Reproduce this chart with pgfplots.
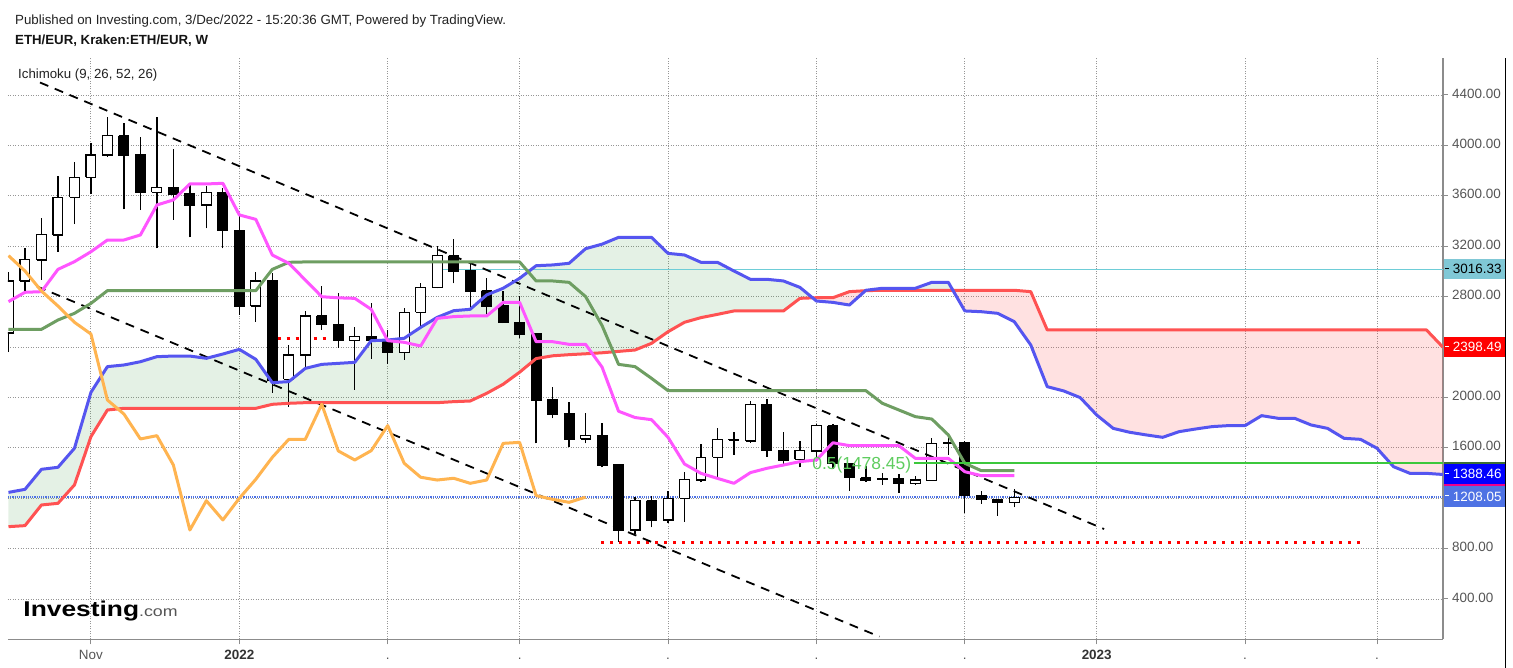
\documentclass[border=0pt]{standalone}
\usepackage{fontspec}
\setmainfont{Liberation Sans}
\usepackage{pgfplots}
\pgfplotsset{compat=1.18}
\usepackage{pgfplotstable}

\definecolor{senA}{RGB}{85,85,240}
\definecolor{senB}{RGB}{255,82,82}
\definecolor{tenkanc}{RGB}{255,85,255}
\definecolor{kijunc}{RGB}{110,158,98}
\definecolor{chikouc}{RGB}{255,180,80}
\definecolor{cloudG}{RGB}{67,160,71}
\definecolor{cloudR}{RGB}{255,82,82}
\definecolor{gridc}{RGB}{150,150,150}
\definecolor{axisc}{RGB}{140,140,140}
\definecolor{labc}{RGB}{85,85,85}
\definecolor{darkc}{RGB}{51,51,51}
\definecolor{tealc}{RGB}{128,200,214}
\definecolor{tealline}{RGB}{110,205,215}
\definecolor{lastblue}{RGB}{78,114,228}
\definecolor{fibg}{RGB}{60,200,60}
\definecolor{fibtext}{RGB}{95,205,95}
\definecolor{kijunlab}{RGB}{60,110,50}

% weekly candles, k = weeks from 3 Jan 2022
\pgfplotstableread{
k O H L C
-14 2511 2998 2360 2924
-13 2924 3183 2831 3096
-12 3090 3421 2932 3291
-11 3289 3760 3157 3588
-10 3588 3871 3376 3747
-9 3747 4022 3614 3924
-8 3924 4228 3911 4075
-7 4075 4180 3493 3924
-6 3929 4069 3487 3625
-5 3627 4228 3183 3667
-4 3667 3969 3408 3614
-3 3620 3699 3270 3527
-2 3527 3678 3342 3628
-1 3628 3659 3183 3321
0 3321 3461 2654 2725
1 2725 2998 2601 2924
2 2924 2985 2037 2138
3 2143 2416 1926 2336
4 2336 2688 2244 2646
5 2646 2887 2535 2575
6 2580 2831 2395 2448
7 2450 2561 2059 2482
8 2482 2746 2305 2450
9 2450 2535 2265 2358
10 2358 2707 2297 2675
11 2675 2905 2561 2874
12 2871 3202 2866 3125
13 3125 3255 2905 3003
14 3006 3077 2715 2844
15 2847 2945 2662 2725
16 2728 2847 2590 2596
17 2596 2805 2468 2503
18 2508 2508 1635 1979
19 1984 2085 1834 1868
20 1873 1966 1604 1670
21 1670 1873 1635 1696
22 1696 1794 1445 1463
23 1469 1469 855 947
24 947 1207 916 1180
25 1180 1217 969 1027
26 1027 1260 1006 1199
27 1199 1410 1014 1350
28 1344 1630 1326 1524
29 1524 1754 1352 1667
30 1660 1728 1543 1667
31 1654 1974 1641 1945
32 1945 1985 1530 1575
33 1577 1728 1471 1503
34 1508 1657 1445 1577
35 1574 1786 1529 1776
36 1775 1789 1429 1477
37 1477 1477 1260 1366
38 1360 1455 1331 1344
39 1350 1402 1305 1358
40 1358 1389 1244 1318
41 1318 1376 1305 1344
42 1339 1675 1339 1635
43 1635 1688 1543 1643
44 1643 1656 1085 1220
45 1217 1260 1154 1191
46 1191 1191 1059 1167
47 1167 1270 1127 1208
}\candles

\pgfplotstableread{
k v
-14 2760
-13 2834
-12 2839
-11 3016
-10 3077
-9 3156
-8 3249
-7 3249
-6 3289
-5 3527
-4 3567
-3 3694
-2 3694
-1 3699
0 3448
1 3413
2 3130
3 3064
4 2932
5 2799
6 2790
7 2786
8 2699
9 2450
10 2437
11 2408
12 2627
13 2641
14 2646
15 2646
16 2754
17 2754
18 2442
19 2442
20 2421
21 2421
22 2240
23 1890
24 1840
25 1823
26 1683
27 1471
28 1397
29 1357
30 1318
31 1403
32 1437
33 1463
34 1490
35 1503
36 1640
37 1617
38 1617
39 1617
40 1617
41 1516
42 1516
43 1516
44 1410
45 1379
46 1379
47 1379
}\tenkanT

\pgfplotstableread{
k v
-14 2540
-13 2540
-12 2540
-11 2614
-10 2667
-9 2746
-8 2847
-7 2847
-6 2847
-5 2847
-4 2847
-3 2847
-2 2847
-1 2847
0 2847
1 2847
2 3016
3 3072
4 3075
5 3075
6 3075
7 3075
8 3075
9 3075
10 3075
11 3075
12 3075
13 3075
14 3075
15 3075
16 3075
17 3075
18 2924
19 2924
20 2913
21 2800
22 2570
23 2262
24 2244
25 2151
26 2053
27 2053
28 2053
29 2053
30 2053
31 2053
32 2053
33 2053
34 2053
35 2053
36 2053
37 2053
38 2053
39 1953
40 1900
41 1847
42 1828
43 1702
44 1477
45 1418
46 1418
47 1418
}\kijunT

\pgfplotstableread{
k v
-14 1246
-13 1270
-12 1429
-11 1445
-10 1596
-9 2040
-8 2244
-7 2257
-6 2283
-5 2323
-4 2328
-3 2328
-2 2310
-1 2344
0 2381
1 2302
2 2117
3 2125
4 2230
5 2262
6 2270
7 2278
8 2450
9 2455
10 2469
11 2556
12 2635
13 2688
14 2699
15 2813
16 2866
17 2945
18 3045
19 3051
20 3064
21 3180
22 3216
23 3270
24 3270
25 3270
26 3143
27 3130
28 3072
29 3072
30 3003
31 2937
32 2937
33 2924
34 2873
35 2765
36 2754
37 2733
38 2850
39 2866
40 2866
41 2866
42 2913
43 2913
44 2686
45 2680
46 2667
47 2601
48 2416
49 2085
50 2051
51 1998
52 1860
53 1754
54 1723
55 1702
56 1683
57 1728
58 1749
59 1768
60 1776
61 1776
62 1855
63 1834
64 1834
65 1781
66 1754
67 1675
68 1667
69 1596
70 1450
71 1397
72 1397
73 1388
}\senAT

\pgfplotstableread{
k v
-14 974
-13 982
-12 1146
-11 1159
-10 1305
-9 1688
-8 1900
-7 1913
-6 1913
-5 1913
-4 1913
-3 1913
-2 1913
-1 1913
0 1913
1 1913
2 1945
3 1953
4 1958
5 1958
6 1958
7 1958
8 1958
9 1958
10 1958
11 1958
12 1958
13 1966
14 1971
15 2032
16 2104
17 2200
18 2308
19 2330
20 2339
21 2346
22 2354
23 2365
24 2376
25 2429
26 2521
27 2596
28 2633
29 2659
30 2686
31 2686
32 2686
33 2686
34 2786
35 2791
36 2791
37 2839
38 2847
39 2850
40 2850
41 2850
42 2850
43 2850
44 2850
45 2850
46 2850
47 2850
48 2839
49 2535
50 2535
51 2535
52 2535
53 2535
54 2535
55 2535
56 2535
57 2535
58 2535
59 2535
60 2535
61 2535
62 2535
63 2535
64 2535
65 2535
66 2535
67 2535
68 2535
69 2535
70 2535
71 2535
72 2535
73 2398
}\senBT

\pgfplotstableread{
k v
-14 3125
-13 3003
-12 2844
-11 2725
-10 2596
-9 2503
-8 1979
-7 1868
-6 1670
-5 1696
-4 1463
-3 947
-2 1180
-1 1027
0 1199
1 1350
2 1524
3 1667
4 1667
5 1945
6 1575
7 1503
8 1577
9 1776
10 1477
11 1366
12 1344
13 1358
14 1318
15 1344
16 1635
17 1643
18 1220
19 1191
20 1167
21 1208
}\chikouT

\pgfplotstablegetrowsof{\candles}
\pgfmathtruncatemacro{\ncand}{\pgfplotsretval-1}

\begin{document}
\begin{tikzpicture}[x=1bp,y=1bp]
\useasboundingbox (0,0) rectangle (1513,668);
\fill[white] (0,0) rectangle (1513,668);
\begin{axis}[
  at={(8bp,28.5bp)}, anchor=south west,
  width=1435bp, height=581.5bp, scale only axis,
  xmin=-14.03, xmax=73, ymin=78.3, ymax=4693.7,
  axis x line=bottom, axis y line=right,
  axis line style={-, draw=axisc, line width=1.6bp},
  ytick={400,800,...,4400},
  yticklabels={400.00,800.00,1200.00,1600.00,2000.00,2400.00,2800.00,3200.00,3600.00,4000.00,4400.00},
  xtick={-9,0,9,17,26,35,44,52,61,69},
  xticklabels={Nov,{\bfseries\textcolor{darkc}{2022}},.,.,.,.,.,{\bfseries\textcolor{darkc}{2023}},.,.},
  typeset ticklabels with strut,
  grid=major,
  major grid style={draw=gridc, line width=0.9bp, dash pattern=on 1bp off 1.5bp},
  tick align=outside, major tick length=5bp,
  tick style={draw=axisc, line width=1bp},
  yticklabel style={font=\fontsize{13.5}{16}\selectfont, text=labc, inner sep=0pt, xshift=4bp},
  xticklabel style={font=\fontsize{13.5}{16}\selectfont, text=labc, inner sep=0pt, yshift=-4bp},
  clip=true,
]
% Ichimoku cloud (between leading spans A and B)
\addplot[fill=cloudG, fill opacity=0.14, draw=none, forget plot] coordinates {
(-14,1246) (-13,1270) (-12,1429) (-11,1445) (-10,1596) (-9,2040) (-8,2244) (-7,2257) (-6,2283) (-5,2323) (-4,2328) (-3,2328) (-2,2310) (-1,2344) (0,2381) (1,2302) (2,2117) (3,2125) (4,2230) (5,2262) (6,2270) (7,2278) (8,2450) (9,2455) (10,2469) (11,2556) (12,2635) (13,2688) (14,2699) (15,2813) (16,2866) (17,2945) (18,3045) (19,3051) (20,3064) (21,3180) (22,3216) (23,3270) (24,3270) (25,3270) (26,3143) (27,3130) (28,3072) (29,3072) (30,3003) (31,2937) (32,2937) (33,2924) (34,2873)
(34.77,2790)
(34,2786) (33,2686) (32,2686) (31,2686) (30,2686) (29,2659) (28,2633) (27,2596) (26,2521) (25,2429) (24,2376) (23,2365) (22,2354) (21,2346) (20,2339) (19,2330) (18,2308) (17,2200) (16,2104) (15,2032) (14,1971) (13,1966) (12,1958) (4,1958) (3,1953) (2,1945) (1,1913) (-7,1913) (-8,1900) (-9,1688) (-10,1305) (-11,1159) (-12,1146) (-13,982) (-14,974)};
\addplot[fill=cloudR, fill opacity=0.17, draw=none, forget plot] coordinates {
(34.77,2790) (35,2765) (36,2754) (37,2733) (37.97,2847) (37,2839) (36,2791) (35,2791)};
\addplot[fill=cloudG, fill opacity=0.14, draw=none, forget plot] coordinates {
(37.97,2847) (38,2850) (39,2866) (40,2866) (41,2866) (42,2913) (43,2913) (43.28,2850) (38,2847)};
\addplot[fill=cloudR, fill opacity=0.17, draw=none, forget plot] coordinates {
(43.28,2850) (44,2686) (45,2680) (46,2667) (47,2601) (48,2416) (49,2085) (50,2051) (51,1998) (52,1860) (53,1754) (54,1723) (55,1702) (56,1683) (57,1728) (58,1749) (59,1768) (60,1776) (61,1776) (62,1855) (63,1834) (64,1834) (65,1781) (66,1754) (67,1675) (68,1667) (69,1596) (70,1450) (71,1397) (72,1397) (73,1388)
(73,2398) (72,2535) (49,2535) (48,2839) (47,2850)};

% horizontal lines
\addplot[tealline, line width=1bp, mark=none] coordinates {(12.3,3016.33) (73,3016.33)};
\addplot[lastblue, line width=1.4bp, dash pattern=on 1.2bp off 1bp, mark=none] coordinates {(-14.03,1208.05) (73,1208.05)};
\addplot[red, line width=3bp, dash pattern=on 3bp off 6bp, mark=none] coordinates {(2.33,2466) (5.48,2466)};
\addplot[red, line width=3bp, dash pattern=on 3bp off 6bp, mark=none] coordinates {(21.95,847) (68,847)};

% candles
\pgfplotsforeachungrouped \i in {0,...,\ncand}{%
  \pgfplotstablegetelem{\i}{k}\of\candles\let\ck\pgfplotsretval
  \pgfplotstablegetelem{\i}{O}\of\candles\let\co\pgfplotsretval
  \pgfplotstablegetelem{\i}{H}\of\candles\let\chh\pgfplotsretval
  \pgfplotstablegetelem{\i}{L}\of\candles\let\cl\pgfplotsretval
  \pgfplotstablegetelem{\i}{C}\of\candles\let\cc\pgfplotsretval
  \pgfmathsetmacro{\xl}{\ck-0.3}%
  \pgfmathsetmacro{\xr}{\ck+0.3}%
  \pgfmathtruncatemacro{\up}{\cc>=\co}%
  \ifnum\up=1 \def\bodyc{white}\else\def\bodyc{black}\fi
  \edef\temp{%
    \noexpand\addplot[forget plot, draw=black, line width=1.3bp, mark=none] coordinates {(\ck,\cl) (\ck,\chh)};
    \noexpand\addplot[forget plot, draw=black, fill=\bodyc, line width=1.1bp, mark=none] coordinates {(\xl,\co) (\xr,\co) (\xr,\cc) (\xl,\cc) (\xl,\co)};
  }\temp
}

% trend channel
\addplot[black, line width=1.8bp, dash pattern=on 9bp off 7bp, mark=none] coordinates {(-12.09,4499) (52.45,955)};
\addplot[black, line width=1.8bp, dash pattern=on 9bp off 7bp, mark=none] coordinates {(-12.27,2880) (38.82,101)};

% Ichimoku lines
\addplot[senB, line width=3bp, line join=round, mark=none] table[x=k,y=v] {\senBT};
\addplot[senA, line width=3bp, line join=round, mark=none] table[x=k,y=v] {\senAT};
\addplot[kijunc, line width=3bp, line join=round, mark=none] table[x=k,y=v] {\kijunT};
\addplot[tenkanc, line width=3bp, line join=round, mark=none] table[x=k,y=v] {\tenkanT};
\addplot[chikouc, line width=3bp, line join=round, mark=none] table[x=k,y=v] {\chikouT};

% fibonacci level
\addplot[fibg, line width=1.2bp, mark=none] coordinates {(40.9,1478.45) (73,1478.45)};
\node[anchor=base east, inner sep=0pt, text=fibtext, font=\fontsize{17.5}{20}\selectfont] at (axis cs:40.76,1424) {0.5(1478.45)};

\coordinate (Lteal) at (axis cs:73,3016.33);
\coordinate (Lred) at (axis cs:73,2398.49);
\coordinate (Lkij) at (axis cs:73,1409);
\coordinate (Lten) at (axis cs:73,1379);
\coordinate (Lblue) at (axis cs:73,1394.5);
\coordinate (Llast) at (axis cs:73,1214);
\end{axis}

% right-hand value labels
\tikzset{vlab/.style={anchor=west, inner xsep=1.6bp, inner ysep=0pt, text width=58.4bp, minimum height=20.3bp, align=left, font=\fontsize{13.5}{16}\selectfont}}
\newcommand{\tk}{\rule[4.6bp]{4bp}{1bp}\hspace{3.6bp}}
\node[vlab, fill=tealc, text=black] at ([xshift=0.5bp]Lteal) {\tk 3016.33};
\node[vlab, fill=red, text=white] at ([xshift=0.5bp]Lred) {\tk 2398.49};
\node[vlab, fill=kijunlab] at ([xshift=0.5bp]Lkij) {};
\node[vlab, fill=magenta] at ([xshift=0.5bp]Lten) {};
\node[vlab, fill=blue, text=white] at ([xshift=0.5bp]Lblue) {\tk 1388.46};
\node[vlab, fill=lastblue, text=white] at ([xshift=0.5bp]Llast) {\tk 1208.05};

% outer frame line
\draw[black, line width=1.3bp] (1505.5,0) -- (1505.5,610);

% header texts
\node[anchor=base west, inner sep=0pt, text={rgb,255:red,34;green,34;blue,34}, font=\fontsize{13.35}{15}\selectfont] at (15,643) {Published on Investing.com, 3/Dec/2022 - 15:20:36 GMT, Powered by TradingView.};
\node[anchor=base west, inner sep=0pt, text={rgb,255:red,20;green,20;blue,20}, font=\bfseries\fontsize{13.3}{15}\selectfont] at (15,623) {ETH/EUR, Kraken:ETH/EUR, W};
\node[anchor=base west, inner sep=0pt, text={rgb,255:red,34;green,34;blue,34}, font=\fontsize{13.3}{15}\selectfont] at (18,589.7) {Ichimoku (9, 26, 52, 26)};

% logo
\node[anchor=base west, inner sep=0pt] at (23.3,51.3) {\scalebox{1.23}[1]{\fontsize{21.5}{24}\selectfont\bfseries Investing\mdseries\fontsize{14.5}{16}\selectfont\textcolor{labc}{.com}}};
\end{tikzpicture}
\end{document}
